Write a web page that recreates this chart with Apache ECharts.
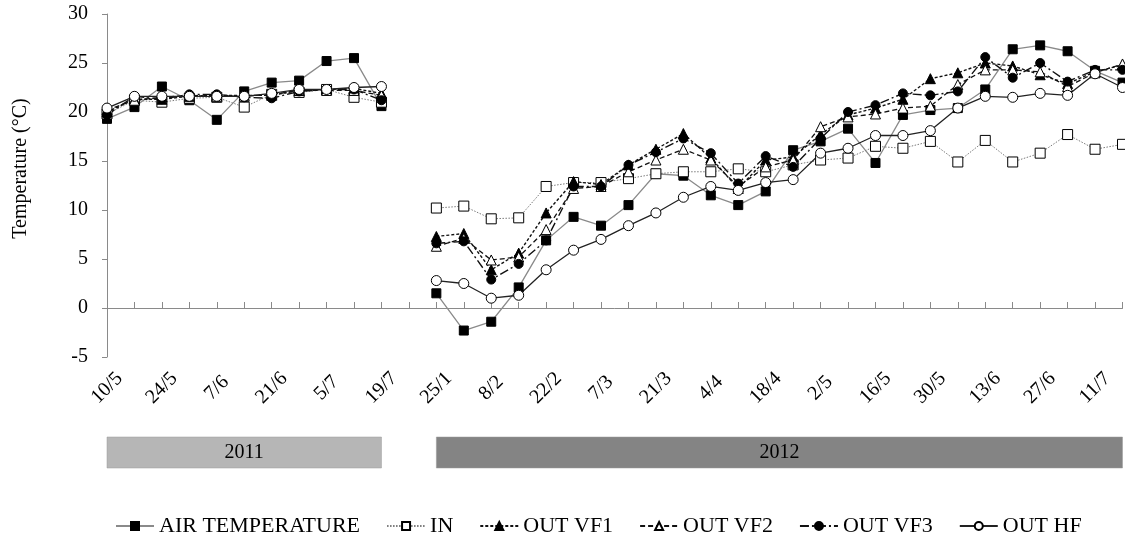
<!DOCTYPE html>
<html>
<head>
<meta charset="utf-8">
<script src="https://cdn.jsdelivr.net/npm/echarts@6/dist/echarts.min.js"></script>
<style>
html,body{margin:0;padding:0;background:#fff;}
#chart{width:1125px;height:538px;}
</style>
</head>
<body>
<div id="chart"></div>
<script>
// ---- categories (weekly dates; one empty slot separates 2011 and 2012) ----
const categories = [
  '10/5','17/5','24/5','31/5','7/6','14/6','21/6','28/6','5/7','12/7','19/7',
  '',
  '25/1','1/2','8/2','15/2','22/2','29/2','7/3','14/3','21/3','28/3','4/4','11/4','18/4','25/4',
  '2/5','9/5','16/5','23/5','30/5','6/6','13/6','20/6','27/6','4/7','11/7','18/7'
];

// ---- series values (2011 block, gap, 2012 block) ----
const airTemperature2011 = [19.3, 20.5, 22.6, 21.2, 19.2, 22.1, 23.0, 23.2, 25.2, 25.5, 20.6];
const airTemperature2012 = [1.5, -2.3, -1.4, 2.1, 6.9, 9.3, 8.4, 10.5, 13.7, 13.5, 11.5, 10.5, 11.9, 16.1, 17.0, 18.3, 14.8, 19.7, 20.2, 20.4, 22.3, 26.4, 26.8, 26.2, 24.2, 23.0];

const in2011 = [19.8, 21.2, 21.0, 21.4, 21.5, 20.5, 21.8, 22.0, 22.3, 21.5, 21.0];
const in2012 = [10.2, 10.4, 9.1, 9.2, 12.4, 12.8, 12.8, 13.2, 13.7, 13.9, 13.9, 14.2, 13.9, 14.6, 15.1, 15.3, 16.5, 16.3, 17.0, 14.9, 17.1, 14.9, 15.8, 17.7, 16.2, 16.7];

const outVF1_2011 = [20.0, 21.3, 21.3, 21.6, 21.7, 21.7, 21.7, 22.2, 22.3, 22.4, 21.9];
const outVF1_2012 = [7.3, 7.6, 3.9, 5.6, 9.7, 12.9, 12.6, 14.6, 16.2, 17.8, 15.3, 12.2, 15.1, 15.4, 17.7, 19.7, 20.4, 21.3, 23.4, 24.0, 25.0, 24.7, 23.8, 22.9, 24.1, 24.8];

const outVF2_2011 = [20.2, 21.2, 21.5, 21.7, 21.6, 21.6, 21.8, 22.2, 22.2, 22.2, 21.7];
const outVF2_2012 = [6.3, 7.1, 4.9, 5.2, 8.0, 12.2, 12.4, 13.9, 15.1, 16.2, 15.1, 12.4, 14.4, 15.1, 18.5, 19.5, 19.8, 20.4, 20.6, 22.8, 24.3, 24.3, 24.1, 22.6, 24.0, 24.9];

const outVF3_2011 = [19.7, 21.6, 21.3, 21.8, 21.8, 21.5, 21.4, 22.1, 22.3, 22.3, 21.2];
const outVF3_2012 = [6.6, 6.8, 2.9, 4.5, 6.9, 12.4, 12.4, 14.6, 15.9, 17.3, 15.8, 12.7, 15.5, 14.4, 17.3, 20.0, 20.7, 21.9, 21.7, 22.1, 25.6, 23.5, 25.0, 23.1, 24.3, 24.3];

const outHF2011 = [20.4, 21.6, 21.6, 21.6, 21.6, 21.6, 21.9, 22.3, 22.3, 22.5, 22.6];
const outHF2012 = [2.8, 2.5, 1.0, 1.3, 3.9, 5.9, 7.0, 8.4, 9.7, 11.3, 12.4, 12.0, 12.8, 13.1, 15.8, 16.3, 17.6, 17.6, 18.1, 20.4, 21.6, 21.5, 21.9, 21.7, 23.9, 22.5];

// ---- year bands ----
const yearLabels = ['2011', '2012'];
const yearStart  = ['10/5', '25/1'];
const yearEnd    = ['19/7', '18/7'];
const yearColors = ['#b6b6b6', '#848484'];

// ---- axis ticks ----
const yMin = -5, yMax = 30, yStep = 5;

const FONT = '"Liberation Serif", "Times New Roman", serif';
const join = (a, b) => a.concat([null], b);

const seriesDefs = [
  {name: 'AIR TEMPERATURE', data: join(airTemperature2011, airTemperature2012),
   symbol: 'rect', symbolSize: 9, fill: '#000', line: {color: '#8a8a8a', width: 1.3, type: 'solid'}},
  {name: 'IN', data: join(in2011, in2012),
   symbol: 'rect', symbolSize: 10, fill: '#fff', line: {color: '#7a7a7a', width: 1, type: [1.5, 1.5]}},
  {name: 'OUT VF1', data: join(outVF1_2011, outVF1_2012),
   symbol: 'triangle', symbolSize: 10, fill: '#000', line: {color: '#111', width: 1.4, type: [3, 2]}},
  {name: 'OUT VF2', data: join(outVF2_2011, outVF2_2012),
   symbol: 'triangle', symbolSize: 10, fill: '#fff', line: {color: '#111', width: 1.3, type: [5, 3]}},
  {name: 'OUT VF3', data: join(outVF3_2011, outVF3_2012),
   symbol: 'circle', symbolSize: 9, fill: '#000', line: {color: '#111', width: 1.4, type: [9, 3, 2, 3]}},
  {name: 'OUT HF', data: join(outHF2011, outHF2012),
   symbol: 'circle', symbolSize: 10, fill: '#fff', line: {color: '#222', width: 1.3, type: 'solid'}}
];

const series = seriesDefs.map(d => ({
  name: d.name,
  type: 'line',
  xAxisIndex: 0,
  yAxisIndex: 0,
  data: d.data,
  symbol: d.symbol,
  symbolSize: d.symbolSize,
  showAllSymbol: true,
  connectNulls: false,
  lineStyle: d.line,
  itemStyle: {color: d.fill, borderColor: '#000', borderWidth: 1},
  emphasis: {disabled: true}
}));

series.push({
  name: 'years',
  type: 'line',
  xAxisIndex: 1,
  yAxisIndex: 1,
  data: categories.map(() => null),
  symbol: 'none',
  silent: true,
  markArea: {
    silent: true,
    label: {show: true, position: 'inside', color: '#000', fontFamily: FONT, fontSize: 20},
    data: yearLabels.map((y, i) => [
      {name: y, xAxis: yearStart[i], yAxis: 0, itemStyle: {color: yearColors[i], borderColor: '#9a9a9a', borderWidth: 0.5}},
      {xAxis: yearEnd[i], yAxis: 1}
    ])
  }
});

const chart = echarts.init(document.getElementById('chart'), null, {renderer: 'canvas'});
chart.setOption({
  animation: false,
  backgroundColor: '#fff',
  grid: [
    {left: 107, right: 2.5, top: 14, height: 343},
    {left: 107, right: 2.5, top: 437, height: 31}
  ],
  xAxis: [
    {
      type: 'category', gridIndex: 0, data: categories, boundaryGap: false, position: 'bottom',
      axisLine: {show: true, onZero: true, lineStyle: {color: '#8a8a8a', width: 1}},
      axisTick: {show: true, inside: true, interval: 0, length: 6, lineStyle: {color: '#8a8a8a'}},
      splitLine: {show: false},
      axisLabel: {interval: 1, rotate: 45, margin: 31, align: 'center', verticalAlign: 'middle',
                  color: '#000', fontFamily: FONT, fontSize: 20}
    },
    {type: 'category', gridIndex: 1, data: categories, boundaryGap: false, show: false}
  ],
  yAxis: [
    {
      type: 'value', gridIndex: 0, min: yMin, max: yMax, interval: yStep,
      axisLine: {show: true, onZero: false, lineStyle: {color: '#8a8a8a', width: 1}},
      axisTick: {show: true, length: 5, lineStyle: {color: '#8a8a8a'}},
      splitLine: {show: false},
      axisLabel: {margin: 19, color: '#000', fontFamily: FONT, fontSize: 20},
      name: 'Temperature (°C)', nameLocation: 'middle', nameGap: 76,
      nameTextStyle: {color: '#000', fontFamily: FONT, fontSize: 20, padding: [0, 0, 0, 34]}
    },
    {type: 'value', gridIndex: 1, min: 0, max: 1, show: false}
  ],
  legend: {
    data: seriesDefs.map(d => d.name),
    top: 510, left: 110,
    itemWidth: 38, itemHeight: 10, itemGap: 26,
    textStyle: {color: '#000', fontFamily: FONT, fontSize: 22},
    selectedMode: false
  },
  series: series
});
</script>
</body>
</html>
